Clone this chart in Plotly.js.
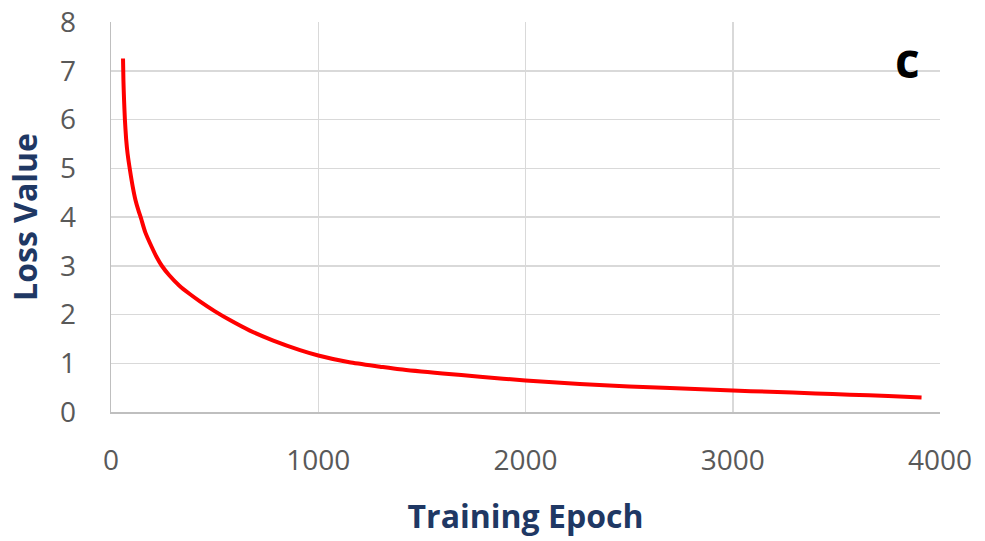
<!DOCTYPE html>
<html>
<head>
<meta charset="utf-8">
<script src="https://cdn.plot.ly/plotly-3.0.1.min.js"></script>
<style>html,body{margin:0;padding:0;background:#fff;}#chart{width:985px;height:541px;}</style>
</head>
<body>
<div id="chart"></div>
<script>
const epochs = [58, 60, 63, 67, 73, 80, 92, 105, 118, 132, 145, 165, 196, 220, 245, 280, 330, 380, 429, 500, 580, 670, 780, 912, 1000, 1150, 1298, 1393, 1600, 1780, 2000, 2262, 2500, 2697, 3000, 3178, 3400, 3565, 3750, 3911];
const lossValues = [7.25, 6.8, 6.4, 6.0, 5.6, 5.3, 4.95, 4.62, 4.35, 4.14, 3.97, 3.69, 3.39, 3.18, 3.00, 2.81, 2.59, 2.42, 2.27, 2.07, 1.87, 1.67, 1.47, 1.27, 1.16, 1.02, 0.93, 0.875, 0.79, 0.725, 0.645, 0.575, 0.525, 0.49, 0.44, 0.415, 0.38, 0.355, 0.33, 0.30];
const xTicks = [0, 1000, 2000, 3000, 4000];
const yTicks = [0, 1, 2, 3, 4, 5, 6, 7, 8];
const panelLabel = "c";

const trace = {
  x: epochs, y: lossValues, type: 'scatter', mode: 'lines',
  line: {color: '#ff0000', width: 4, shape: 'spline', smoothing: 0.6},
  hoverinfo: 'skip'
};
const tickFont = {family: 'Open Sans, sans-serif', size: 28, color: '#595959'};
const titleFont = {family: 'Open Sans, sans-serif', size: 32, color: '#1f3864', weight: 'bold'};
const layout = {
  width: 985, height: 541,
  margin: {l: 111, r: 45, t: 22, b: 129},
  paper_bgcolor: '#ffffff', plot_bgcolor: '#ffffff',
  showlegend: false,
  xaxis: {
    range: [0, 4000], tickvals: xTicks, ticktext: xTicks.map(String),
    showgrid: true, gridcolor: '#d9d9d9', gridwidth: 1.5,
    zeroline: false, showline: true, linecolor: '#bfbfbf', linewidth: 1.5,
    ticks: '', ticklabelstandoff: 23, tickfont: tickFont,
    title: {text: 'Training Epoch', font: titleFont, standoff: 28}
  },
  yaxis: {
    range: [0, 8], tickvals: yTicks, ticktext: yTicks.map(String),
    showgrid: true, gridcolor: '#d9d9d9', gridwidth: 1.5,
    zeroline: false, showline: true, linecolor: '#bfbfbf', linewidth: 1.5,
    ticks: '', ticklabelstandoff: 28, tickfont: tickFont,
    title: {text: 'Loss Value', font: titleFont, standoff: 12}
  },
  annotations: [{
    text: panelLabel, xref: 'paper', yref: 'paper', x: 0.961, y: 0.903,
    xanchor: 'center', yanchor: 'middle', showarrow: false,
    font: {family: 'Open Sans, sans-serif', size: 48, color: '#000000', weight: 'bold'}
  }]
};
Plotly.newPlot('chart', [trace], layout, {staticPlot: true, displayModeBar: false});
</script>
</body>
</html>
